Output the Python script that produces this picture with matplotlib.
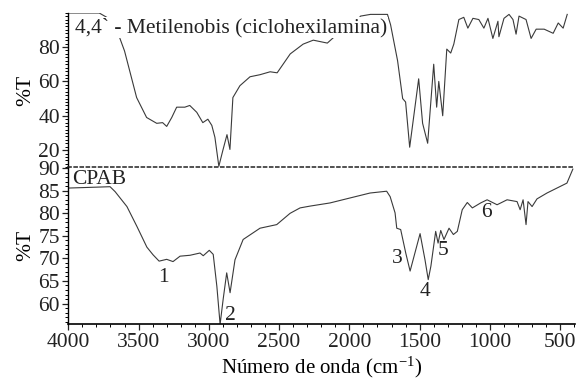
import matplotlib
matplotlib.use("Agg")
import matplotlib.pyplot as plt
from matplotlib.ticker import MultipleLocator

plt.rcParams['font.family'] = ['Liberation Serif', 'DejaVu Serif']
plt.rcParams['mathtext.fontset'] = 'stix'

# Top spectrum: 4,4'-Metilenobis (ciclohexilamina)
top_wn = [4000, 3780, 3720, 3657, 3600, 3514, 3443, 3371, 3329, 3300, 3264, 3229, 3171,
          3136, 3086, 3043, 3007, 2979, 2957, 2929, 2900, 2871, 2850, 2829, 2779, 2707,
          2636, 2564, 2514, 2421, 2329, 2257, 2157, 2086, 2014, 1921, 1850, 1729, 1707,
          1657, 1621, 1600, 1571, 1507, 1479, 1443, 1400, 1379, 1364, 1336, 1307, 1279,
          1257, 1221, 1186, 1157, 1121, 1079, 1043, 1014, 979, 943, 936, 900, 864, 836,
          814, 793, 743, 707, 671, 614, 550, 514, 479, 450]
top_T = [99.8, 99.8, 97, 90.4, 77.7, 50.6, 39, 35.6, 36, 33.8, 39, 45, 45,
         46, 42, 36, 38, 34.4, 27.5, 10.6, 20, 29, 20.4, 50.6, 57.5, 62.7,
         63.9, 65.6, 65, 76, 81.7, 84, 82.3, 87.5, 87.5, 98, 99, 99, 93,
         72, 50, 48, 21.7, 61.5, 35.6, 24, 70, 45, 60, 40, 78.8, 76.5,
         81.7, 96, 97.3, 91, 96.7, 96, 91, 96.7, 85, 95, 86, 96.7, 99, 96,
         87.5, 98, 96, 85, 90.4, 90.4, 88, 94, 91, 99]

# Bottom spectrum: CPAB
bot_wn = [4000, 3900, 3800, 3703, 3667, 3583, 3512, 3441, 3397, 3354, 3300, 3255, 3205,
          3134, 3063, 3040, 2997, 2969, 2943, 2920, 2898, 2873, 2849, 2814, 2756, 2636,
          2517, 2422, 2351, 2280, 2138, 1996, 1853, 1735, 1710, 1675, 1663, 1635, 1599,
          1568, 1497, 1462, 1439, 1420, 1386, 1369, 1350, 1327, 1291, 1260, 1232, 1197,
          1161, 1125, 1066, 1020, 949, 878, 807, 785, 764, 743, 729, 700, 665, 594,
          523, 452, 410]
bot_T = [85.6, 85.7, 85.8, 85.9, 84.8, 81.5, 77.1, 72.5, 70.8, 69.4, 69.8, 69.3, 70.5,
         70.7, 71.2, 70.6, 71.8, 70.9, 63.8, 55.4, 61, 66.8, 62.4, 69.7, 74.2, 76.7,
         77.5, 80, 81.2, 81.6, 82.3, 83.4, 84.5, 84.9, 83.7, 80.1, 76.7, 76.4, 71.2,
         67.2, 75.5, 69.7, 65.3, 68.3, 76, 73.4, 76.2, 74.2, 76.7, 75.3, 76, 80.8,
         82.4, 81.2, 82.3, 83, 81.9, 83, 82.6, 80.8, 83, 77.5, 82.6, 81.5, 83.2, 84.5,
         85.6, 86.7, 89.8]

peak_labels = ['1', '2', '3', '4', '5', '6']
peak_wn = [3326, 2849, 1661, 1462, 1334, 1022]
peak_T = [65.8, 57.3, 70.0, 62.6, 71.7, 80.1]

xticks = [4000, 3500, 3000, 2500, 2000, 1500, 1000, 500]
top_yticks = [20, 40, 60, 80]
bot_yticks = [60, 65, 70, 75, 80, 85, 90]

fig = plt.figure(figsize=(5.79, 3.84), dpi=100)
ax_b = fig.add_axes([0.118, 0.1555, 0.875, 0.4088])
ax_t = fig.add_axes([0.118, 0.5643, 0.875, 0.4027])
ax_t.patch.set_visible(False)
ax_b.patch.set_visible(False)

lc = '#3a3a3a'
fs = 15.5

ax_t.plot(top_wn, top_T, color=lc, lw=0.8)
ax_b.plot(bot_wn, bot_T, color=lc, lw=0.8)

for ax in (ax_t, ax_b):
    ax.set_xlim(4000, 395)
    ax.spines['top'].set_visible(False)
    ax.spines['right'].set_visible(False)
    ax.spines['left'].set_linewidth(1.0)
    ax.tick_params(axis='both', labelsize=fs, direction='out', length=4, width=0.9,
                   pad=2, colors='#222222')
    ax.tick_params(which='minor', length=2, width=0.7)
    ax.set_ylabel('%T', fontsize=fs, labelpad=2)

ax_t.set_ylim(10, 100)
ax_t.set_yticks(top_yticks)
ax_t.yaxis.set_minor_locator(MultipleLocator(2))
ax_t.spines['bottom'].set_linestyle((0, (2.0, 2.0)))
ax_t.spines['bottom'].set_linewidth(1.1)
ax_t.spines['bottom'].set_color('#222222')
ax_t.tick_params(axis='x', which='both', bottom=False, labelbottom=False)

ax_b.set_ylim(55.4, 90.2)
ax_b.set_yticks(bot_yticks)
ax_b.yaxis.set_minor_locator(MultipleLocator(1))
ax_b.set_xticks(xticks)
ax_b.xaxis.set_minor_locator(MultipleLocator(100))
ax_b.spines['bottom'].set_linewidth(1.2)
ax_b.spines['bottom'].set_visible(True)
ax_b.set_xlabel('Número de onda (cm$^{\\mathregular{-1}}$)', fontsize=15, labelpad=2)

ax_t.text(0.013, 0.965, '4,4` - Metilenobis (ciclohexilamina)', transform=ax_t.transAxes,
          fontsize=fs, ha='left', va='top', color='#222222',
          bbox=dict(facecolor='white', edgecolor='none', pad=0.5))
ax_b.text(0.008, 0.985, 'CPAB', transform=ax_b.transAxes, fontsize=fs,
          ha='left', va='top', color='#222222')

for lab, x, y in zip(peak_labels, peak_wn, peak_T):
    ax_b.text(x, y, lab, fontsize=fs, ha='center', va='center', color='#222222')

fig.savefig('out.png', dpi=100)
